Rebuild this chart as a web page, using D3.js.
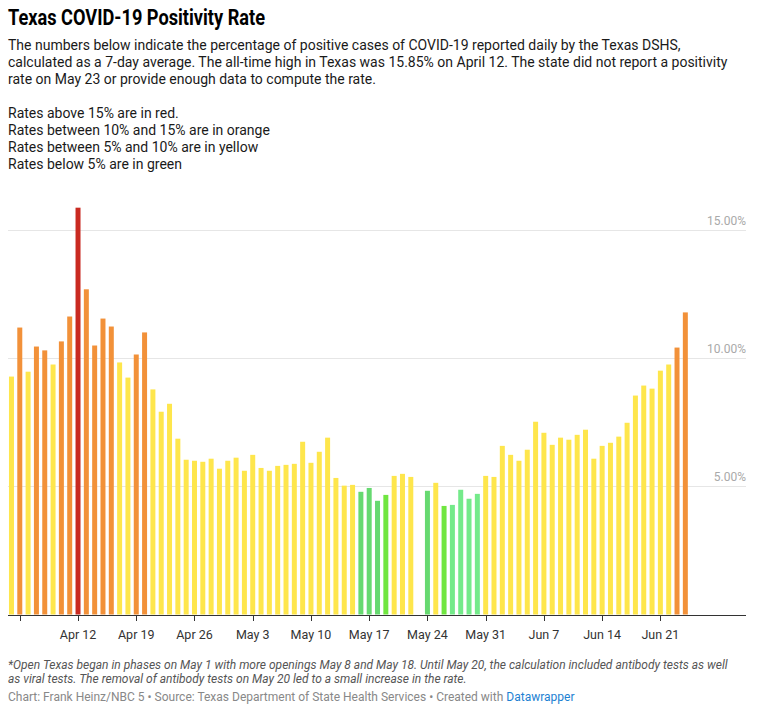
<!DOCTYPE html>
<html><head><meta charset="utf-8">
<script src="https://cdn.jsdelivr.net/npm/d3@7"></script>
<style>
body{margin:0;background:#fff;}
svg text{font-family:Roboto,"Noto Sans",sans-serif;}
</style></head>
<body><svg id="c" width="761" height="721"></svg>
<script>
// ---------------- DATA ----------------
const dates = [
"2020-04-04","2020-04-05","2020-04-06","2020-04-07","2020-04-08","2020-04-09","2020-04-10","2020-04-11",
"2020-04-12","2020-04-13","2020-04-14","2020-04-15","2020-04-16","2020-04-17","2020-04-18","2020-04-19",
"2020-04-20","2020-04-21","2020-04-22","2020-04-23","2020-04-24","2020-04-25","2020-04-26","2020-04-27",
"2020-04-28","2020-04-29","2020-04-30","2020-05-01","2020-05-02","2020-05-03","2020-05-04","2020-05-05",
"2020-05-06","2020-05-07","2020-05-08","2020-05-09","2020-05-10","2020-05-11","2020-05-12","2020-05-13",
"2020-05-14","2020-05-15","2020-05-16","2020-05-17","2020-05-18","2020-05-19","2020-05-20","2020-05-21",
"2020-05-22","2020-05-23","2020-05-24","2020-05-25","2020-05-26","2020-05-27","2020-05-28","2020-05-29",
"2020-05-30","2020-05-31","2020-06-01","2020-06-02","2020-06-03","2020-06-04","2020-06-05","2020-06-06",
"2020-06-07","2020-06-08","2020-06-09","2020-06-10","2020-06-11","2020-06-12","2020-06-13","2020-06-14",
"2020-06-15","2020-06-16","2020-06-17","2020-06-18","2020-06-19","2020-06-20","2020-06-21","2020-06-22",
"2020-06-23","2020-06-24"];
const rates = [
9.27,11.18,9.46,10.44,10.29,9.74,10.64,11.61,
15.85,12.67,10.48,11.53,11.22,9.82,9.23,10.13,
10.99,8.77,7.90,8.21,6.85,6.03,5.99,5.95,
6.07,5.68,5.99,6.11,5.60,6.22,5.71,5.60,
5.79,5.83,5.87,6.73,5.91,6.34,6.89,5.32,
5.02,5.05,4.78,4.93,4.43,4.66,5.40,5.48,
5.36,null,4.82,5.13,4.23,4.27,4.86,4.51,
4.70,5.40,5.36,6.57,6.22,5.99,6.42,7.51,
7.08,6.61,6.89,6.81,7.00,7.20,6.07,6.57,
6.69,6.93,7.47,8.53,8.92,8.80,9.50,9.74,
10.40,11.77];
const tickDates = ["2020-04-05","2020-04-12","2020-04-19","2020-04-26","2020-05-03","2020-05-10",
  "2020-05-17","2020-05-24","2020-05-31","2020-06-07","2020-06-14","2020-06-21"];
const tickLabels = ["","Apr 12","Apr 19","Apr 26","May 3","May 10","May 17","May 24","May 31","Jun 7","Jun 14","Jun 21"];
const yTicks = [5, 10, 15];
const titleText = "Texas COVID-19 Positivity Rate";
const introLines = [
 "The numbers below indicate the percentage of positive cases of COVID-19 reported daily by the Texas DSHS,",
 "calculated as a 7-day average. The all-time high in Texas was 15.85% on April 12. The state did not report a positivity",
 "rate on May 23 or provide enough data to compute the rate.",
 "",
 "Rates above 15% are in red.",
 "Rates between 10% and 15% are in orange",
 "Rates between 5% and 10% are in yellow",
 "Rates below 5% are in green"];
const noteLines = [
 "*Open Texas began in phases on May 1 with more openings May 8 and May 18. Until May 20, the calculation included antibody tests as well",
 "as viral tests. The removal of antibody tests on May 20 led to a small increase in the rate."];
const creditText = "Chart: Frank Heinz/NBC 5 \u2022 Source: Texas Department of State Health Services \u2022 Created with ";
const creditLink = "Datawrapper";

// green shade variants per date (style)
const greenShade = {"2020-05-19":"#70e640","2020-05-26":"#70e640",
  "2020-05-27":"#74ea8a","2020-05-28":"#74ea8a","2020-05-29":"#74ea8a","2020-05-30":"#74ea8a"};

// ---------------- DRAW ----------------
const parse = d3.utcParse("%Y-%m-%d");
const data = dates.map((d,i)=>({date:parse(d), key:d, v:rates[i]})).filter(d=>d.v!=null);
const svg = d3.select("#c");

const x = d3.scaleUtc()
  .domain([d3.utcHour.offset(parse("2020-04-04"), -10), d3.utcHour.offset(parse("2020-07-01"), 7)])
  .range([8, 746]);
const y = d3.scaleLinear().domain([0, 15]).range([614.5, 229.5]);
const dayW = x(parse("2020-04-05")) - x(parse("2020-04-04"));
const bw = dayW * 0.6;

function color(d){
  if (d.v > 15) return "#c92a21";
  if (d.v >= 10) return "#f29139";
  if (d.v >= 5) return "#fee64c";
  return greenShade[d.key] || "#66d970";
}

// gridlines
svg.append("g").selectAll("line").data(yTicks).join("line")
  .attr("x1", 8).attr("x2", 746)
  .attr("y1", d=>Math.round(y(d))+0.5).attr("y2", d=>Math.round(y(d))+0.5)
  .attr("stroke", "#e6e6e6").attr("stroke-width", 1);
svg.append("g").selectAll("text").data(yTicks).join("text")
  .attr("x", 746).attr("y", d=>y(d)-5)
  .attr("text-anchor","end").attr("font-size",12).attr("fill","#a9a9a9")
  .text(d=>d3.format(".2f")(d)+"%");

// bars
svg.append("g").selectAll("rect").data(data).join("rect")
  .attr("x", d=>x(d.date) - bw/2)
  .attr("width", bw)
  .attr("y", d=>y(d.v))
  .attr("height", d=>y(0)-y(d.v))
  .attr("fill", color);

// x axis
const axisG = svg.append("g").attr("transform","translate(0,615)");
axisG.append("line").attr("x1",8).attr("x2",746).attr("y1",0.5).attr("y2",0.5)
  .attr("stroke","#333").attr("stroke-width",1);
const tk = tickDates.map((d,i)=>({date:parse(d), label:tickLabels[i]}));
axisG.selectAll("line.t").data(tk).join("line").attr("class","t")
  .attr("x1", d=>Math.round(x(d.date))+0.5).attr("x2", d=>Math.round(x(d.date))+0.5)
  .attr("y1", 0).attr("y2", 6).attr("stroke","#333");
axisG.selectAll("text").data(tk).join("text")
  .attr("x", d=>x(d.date)).attr("y", 24)
  .attr("text-anchor","middle").attr("font-size",12.5).attr("fill","#333")
  .text(d=>d.label);

// title & intro
svg.append("text").attr("x",8).attr("y",25).attr("font-size",22).attr("font-weight",700)
  .attr("fill","#000").attr("textLength",257).attr("lengthAdjust","spacingAndGlyphs").text(titleText);
svg.append("g").selectAll("text").data(introLines).join("text")
  .attr("x",8).attr("y",(d,i)=>50+i*17).attr("font-size",14).attr("fill","#1a1a1a")
  .text(d=>d);

// notes
svg.append("g").selectAll("text").data(noteLines).join("text")
  .attr("x",8).attr("y",(d,i)=>669+i*14).attr("font-size",12).attr("font-style","italic")
  .attr("fill","#555").text(d=>d);
const cr = svg.append("text").attr("x",8).attr("y",701).attr("font-size",12).attr("fill","#888");
cr.append("tspan").text(creditText);
cr.append("tspan").attr("fill","#1d81d2").text(creditLink);
</script></body></html>
